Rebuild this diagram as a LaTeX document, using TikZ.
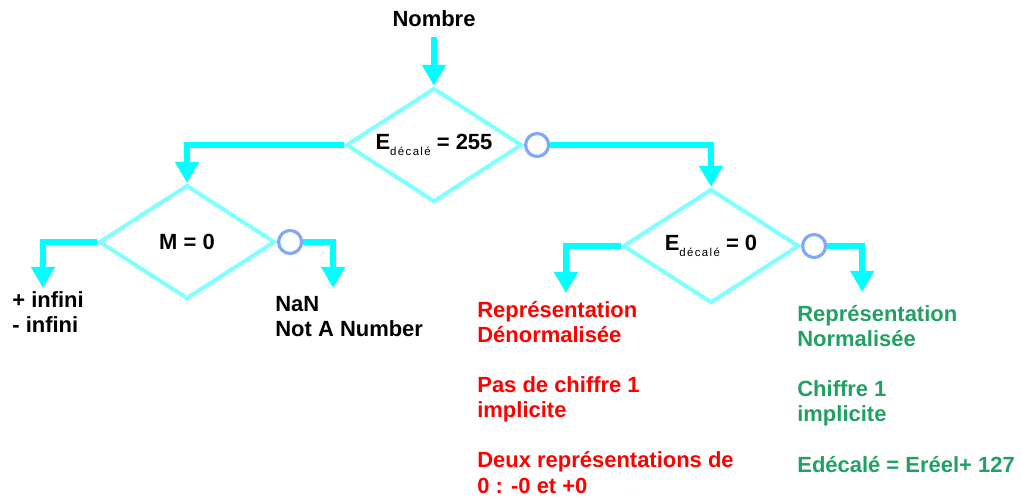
\documentclass[tikz,border=0pt]{standalone}
\usepackage{fontspec}
\setmainfont{Liberation Sans}
\newfontfamily\subfont[LetterSpace=12]{Liberation Sans}
\usepackage{tikz}
\usepackage{xcolor}
\usetikzlibrary{arrows.meta, shapes.geometric, positioning}
\definecolor{FlowCyan}{HTML}{00FFFF}
\definecolor{TestCyan}{HTML}{80FFFF}
\definecolor{KnotBlue}{HTML}{80A8F8}
\definecolor{DenormRed}{HTML}{FF0000}
\definecolor{NormGreen}{HTML}{22A064}
\newcommand{\Edec}{E\raisebox{-3pt}{\subfont\mdseries\fontsize{6.5}{7}\selectfont décalé}}

\begin{document}
\begin{tikzpicture}[on grid, font=\bfseries\fontsize{12.5}{14.3}\selectfont,
        test/.style={diamond, aspect=1.54, draw=TestCyan, line width=2.3pt, minimum width=3.52cm, minimum height=2.28cm, inner sep=0pt},
        knot/.style={circle, draw=KnotBlue, line width=1.8pt, minimum size=0.46cm, inner sep=0pt},
        flow/.style={draw=FlowCyan, line width=3.4pt, -{Triangle[width=13pt, length=12pt]}},
        legend/.style={anchor=base west, align=left, inner sep=0pt}]

        \useasboundingbox (0,0) rectangle (20.44,-10);

        \node[test] (e255) at (8.68,-2.90) {\Edec\ = 255};
        \node[anchor=base] (nombre) at (8.68,-0.54) {Nombre};

        \node[test, below left=1.94cm and 4.94cm of e255] (m0) {M = 0};
        \node[test, below right=2.02cm and 5.54cm of e255] (e0) {\Edec\ = 0};

        \node[knot, right=0pt of e255.east] (k255) {};
        \node[knot, right=0pt of m0.east] (km0) {};
        \node[knot, right=0pt of e0.east] (ke0) {};

        \coordinate[below left=0.92cm and 1.08cm of m0.west] (infend);
        \coordinate[below right=0.92cm and 0.60cm of km0.east] (nanend);
        \coordinate[below left=0.94cm and 1.10cm of e0.west] (denend);
        \coordinate[below right=0.92cm and 0.70cm of ke0.east] (normend);

        \node[legend] (infini) at (0.24,-6.66) {+ infini\\- infini};
        \node[legend] (nan) at (5.50,-6.74) {NaN\\Not A Number};
        \node[legend, text=DenormRed] (denorm) at (9.54,-9.86) {Représentation\\Dénormalisée\\[14.3pt]Pas de chiffre 1\\implicite\\[14.3pt]Deux représentations de\\0 : -0 et +0};
        \node[legend, text=NormGreen] (norm) at (15.94,-9.44) {Représentation\\Normalisée\\[14.3pt]Chiffre 1\\implicite\\[14.3pt]Edécalé = Eréel+ 127};

        \draw[flow, shorten <=2pt] (nombre) -- (e255);
        \draw[flow] (e255.west) -| (m0.north);
        \draw[flow] (k255.east) -| (e0.north);
        \draw[flow] (m0.west) -| (infend);
        \draw[flow] (km0.east) -| (nanend);
        \draw[flow] (e0.west) -| (denend);
        \draw[flow] (ke0.east) -| (normend);

\end{tikzpicture}
\end{document}
